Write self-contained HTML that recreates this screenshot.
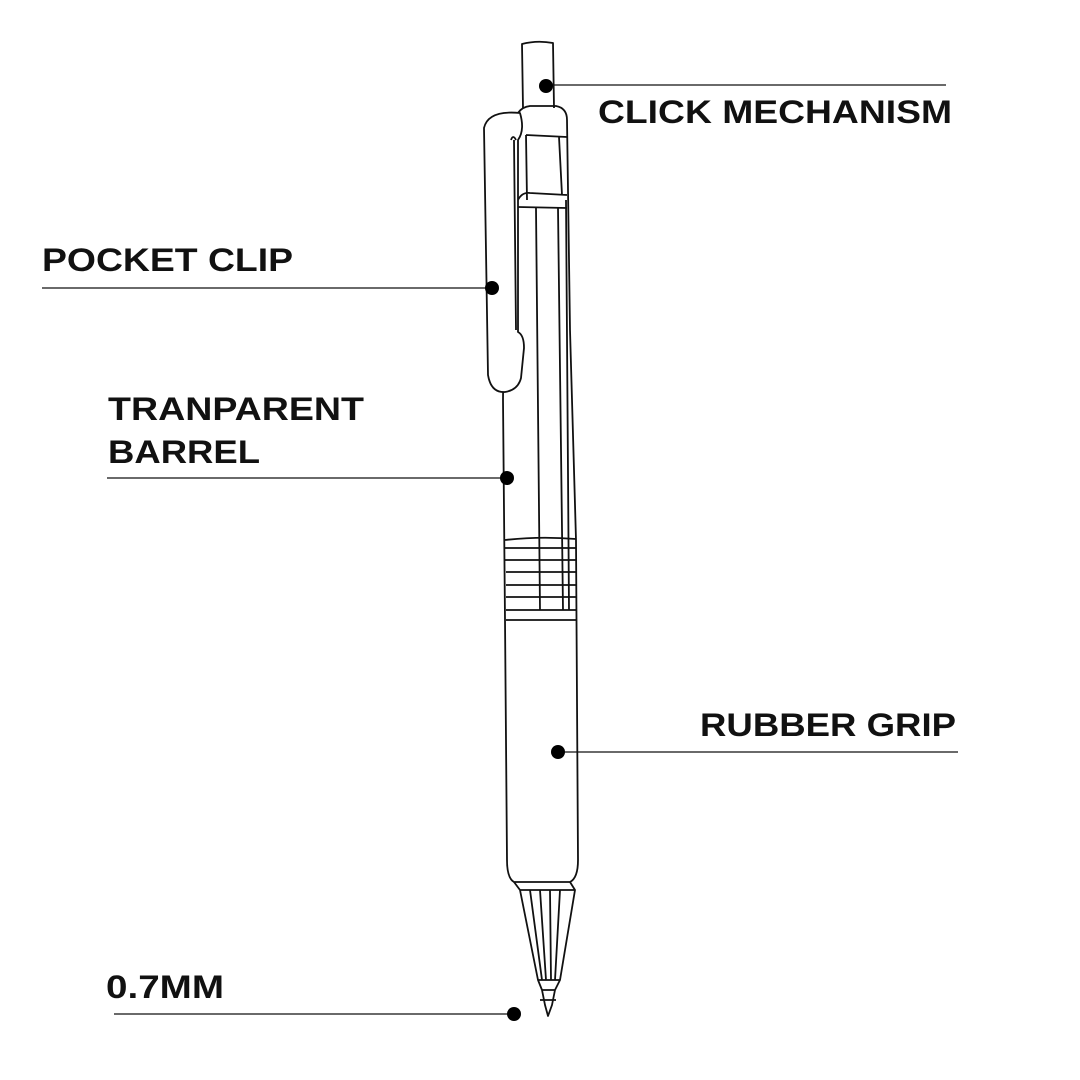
<!DOCTYPE html>
<html><head><style>html,body{margin:0;padding:0;background:#fff;}svg{display:block}text{font-family:"Liberation Sans",sans-serif;font-weight:bold;font-size:32px;fill:#111}</style></head>
<body>
<svg width="1080" height="1080" viewBox="0 0 1080 1080" xmlns="http://www.w3.org/2000/svg">
<g fill="none" stroke="#111" stroke-width="1.8" stroke-linejoin="round">
<!-- plunger -->
<path d="M523 108 L522 44 Q537 40 553 43 L554 108"/>
<!-- body -->
<path d="M514 130 Q514 108 530 106 L556 106 Q567 108 567 120 L570 330 L576 540 L578 860 Q578 878 570 882 L514 882 Q507 878 507 860 L505 620 L503 400 L505 200 Z"/>
<!-- mechanism window -->
<path d="M526 135 L567 137 M526 135 L527 200 M559 137 L562 195 M518 200 Q522 192 530 193 L567 195 M518 207 L567 208"/>
<!-- barrel inner lines -->
<path d="M536 208 L540 610 M558 208 L563 610 M566 200 L569 610"/>
<!-- clip -->
<path fill="#fff" d="M520 113 Q488 110 484 128 L488 375 Q491 393 505 392 Q518 390 521 378 L524 348 Q524 335 518 332 L518 140 Q525 130 520 113 Z"/>
<path d="M514 140 L516 330 M511 140 Q513 134 516 140"/>
<!-- rings -->
<path d="M505 540 Q540 536 576 539 M505 548 L576 548 M505 560 L576 560 M506 572 L576 572 M506 585 L576 585 M506 597 L576 597 M506 610 L576 610 M506 620 L576 620"/>
<!-- cone -->
<path d="M514 882 L520 890 L538 980 L542 990 L545 1005 L548 1016 L552 1005 L555 990 L560 980 L575 890 L570 882 M520 890 L575 890 M538 980 L560 980 M542 990 L555 990 M530 890 L542 980 M540 890 L546 980 M550 890 L551 980 M560 890 L555 980 M540 1000 L556 1000"/>
</g>
<!-- connectors -->
<g stroke="#111" stroke-width="1.2">
<line x1="546" y1="85" x2="946" y2="85"/>
<line x1="42" y1="288" x2="492" y2="288"/>
<line x1="107" y1="478" x2="507" y2="478"/>
<line x1="558" y1="752" x2="958" y2="752"/>
<line x1="114" y1="1014" x2="514" y2="1014"/>
</g>
<g fill="#000">
<circle cx="546" cy="86" r="7"/>
<circle cx="492" cy="288" r="7"/>
<circle cx="507" cy="478" r="7"/>
<circle cx="558" cy="752" r="7"/>
<circle cx="514" cy="1014" r="7"/>
</g>
<text x="598" y="123" textLength="354" lengthAdjust="spacingAndGlyphs">CLICK MECHANISM</text>
<text x="42" y="271" textLength="251" lengthAdjust="spacingAndGlyphs">POCKET CLIP</text>
<text x="108" y="420" textLength="256" lengthAdjust="spacingAndGlyphs">TRANPARENT</text>
<text x="108" y="463" textLength="152" lengthAdjust="spacingAndGlyphs">BARREL</text>
<text x="700" y="736" textLength="256" lengthAdjust="spacingAndGlyphs">RUBBER GRIP</text>
<text x="106" y="998" textLength="118" lengthAdjust="spacingAndGlyphs">0.7MM</text>
</svg>
</body></html>
